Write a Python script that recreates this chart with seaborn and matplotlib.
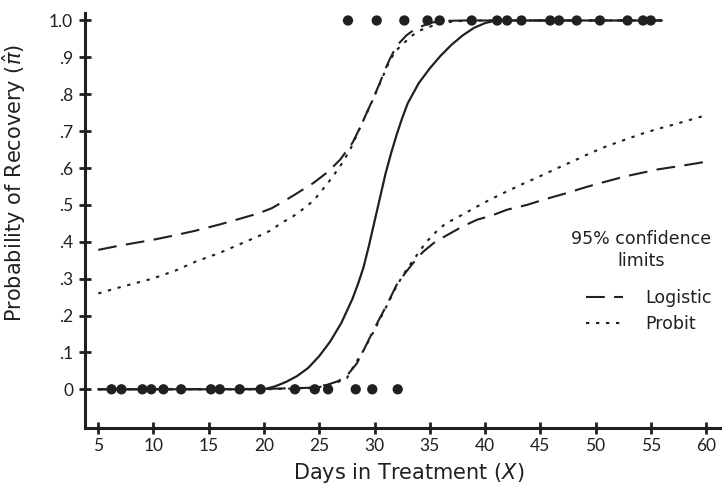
import matplotlib
matplotlib.use("Agg")
import matplotlib.pyplot as plt
import matplotlib.lines as mlines
import seaborn as sns
import pandas as pd

# ---- data ----
zero_x = [6.2, 7.1, 9.0, 9.8, 10.9, 12.5, 15.2, 16.0, 17.8, 19.7, 22.8, 24.6, 25.8, 28.3, 29.8, 32.1]
one_x = [27.6, 30.2, 32.7, 34.8, 35.9, 38.8, 41.1, 42.0, 43.3, 45.9, 46.7, 48.3, 50.4, 52.9, 54.3, 55.0]

fit_x = [5, 15, 20, 21, 22, 23, 24, 25, 26, 27, 28, 28.5, 29, 29.5, 30, 30.5, 31, 31.5, 32, 32.5, 33, 34, 35, 36, 37, 38, 39, 40, 41, 56]
fit_y = [0, 0, 0, 0.008, 0.02, 0.036, 0.058, 0.09, 0.13, 0.18, 0.245, 0.285, 0.33, 0.39, 0.455, 0.52, 0.585, 0.64, 0.69, 0.735, 0.775, 0.83, 0.87, 0.905, 0.935, 0.96, 0.98, 0.993, 1.0, 1.0]

logit_up_x = [5, 7, 9.9, 12, 13.8, 16, 18, 19.5, 20.7, 21.8, 22.8, 24.5, 25.8, 26.9, 28.0, 28.7, 29.3, 29.9, 30.5, 31.0, 31.4, 31.8, 32.3, 32.9, 33.5, 34.4, 35.3, 36.5, 38, 56]
logit_up_y = [0.378, 0.39, 0.405, 0.418, 0.43, 0.447, 0.464, 0.477, 0.491, 0.51, 0.528, 0.56, 0.59, 0.623, 0.668, 0.71, 0.75, 0.79, 0.832, 0.87, 0.896, 0.92, 0.941, 0.96, 0.973, 0.986, 0.995, 0.999, 1.0, 1.0]

logit_lo_x = [5, 20, 24, 25.7, 26.7, 27.5, 28.4, 29.0, 29.9, 31.1, 32.0, 32.9, 33.7, 34.4, 35.5, 36.8, 38, 39.3, 40.5, 42, 43.8, 45.5, 47.4, 49, 50.4, 52.8, 55.6, 58.6, 60]
logit_lo_y = [0, 0.001, 0.004, 0.012, 0.022, 0.037, 0.07, 0.105, 0.16, 0.228, 0.283, 0.32, 0.35, 0.373, 0.40, 0.422, 0.442, 0.46, 0.47, 0.487, 0.50, 0.516, 0.532, 0.547, 0.559, 0.578, 0.596, 0.61, 0.617]

probit_up_x = [5, 7, 9.9, 12, 13.8, 16, 18, 19.5, 20.7, 21.5, 22.5, 23.5, 24.5, 25.8, 26.9, 27.8, 28.7, 29.6, 30.5, 31.0, 31.4, 32.0, 32.6, 33.3, 34.1, 35.0, 35.7, 37, 38.5, 56]
probit_up_y = [0.26, 0.277, 0.30, 0.322, 0.346, 0.37, 0.396, 0.415, 0.432, 0.45, 0.466, 0.488, 0.512, 0.56, 0.605, 0.65, 0.71, 0.768, 0.83, 0.865, 0.893, 0.92, 0.937, 0.957, 0.973, 0.983, 0.99, 0.997, 1.0, 1.0]

probit_lo_x = [5, 20, 24, 25.5, 26.6, 27.5, 28.1, 29.0, 29.9, 31.0, 32.0, 32.8, 33.5, 34.7, 35.9, 36.6, 38, 39.0, 40.5, 42, 43.5, 45, 46.5, 48, 49.5, 51, 52.5, 54, 55.5, 57.1, 58.5, 60]
probit_lo_y = [0, 0, 0.003, 0.008, 0.019, 0.03, 0.062, 0.105, 0.155, 0.22, 0.28, 0.32, 0.35, 0.40, 0.437, 0.452, 0.474, 0.491, 0.515, 0.537, 0.558, 0.578, 0.599, 0.619, 0.64, 0.659, 0.675, 0.691, 0.705, 0.718, 0.73, 0.743]

x_ticks = [5, 10, 15, 20, 25, 30, 35, 40, 45, 50, 55, 60]
y_ticks = [0, 0.1, 0.2, 0.3, 0.4, 0.5, 0.6, 0.7, 0.8, 0.9, 1.0]
y_tick_labels = ["0", ".1", ".2", ".3", ".4", ".5", ".6", ".7", ".8", ".9", "1.0"]
legend_labels = ["Logistic", "Probit"]
legend_title = "95% confidence\nlimits"

# ---- style ----
sns.set_style("ticks")
INK = "#231f20"
plt.rcParams["font.family"] = ["Lato", "DejaVu Sans"]
plt.rcParams["text.color"] = INK
plt.rcParams["axes.labelcolor"] = INK
plt.rcParams["xtick.color"] = INK
plt.rcParams["ytick.color"] = INK
plt.rcParams["mathtext.fontset"] = "dejavusans"
LABEL_FONT = ["DejaVu Sans"]

fig = plt.figure(figsize=(7.22, 4.93), dpi=100)
ax = fig.add_axes([0.1177, 0.1318, 0.8816, 0.8416])

dash_style = (0, (9, 4.5))
dot_style = (0, (1.6, 3.2))

def curve(xs, ys, ls, lw):
    df = pd.DataFrame({"x": xs, "y": ys})
    sns.lineplot(data=df, x="x", y="y", ax=ax, color=INK, linestyle=ls, lw=lw,
                 sort=False, estimator=None)

curve(logit_up_x, logit_up_y, dash_style, 1.5)
curve(logit_lo_x, logit_lo_y, dash_style, 1.5)
curve(probit_up_x, probit_up_y, dot_style, 1.5)
curve(probit_lo_x, probit_lo_y, dot_style, 1.5)
curve(fit_x, fit_y, "-", 1.6)

pts = pd.DataFrame({"x": zero_x + one_x, "y": [0] * len(zero_x) + [1] * len(one_x)})
sns.scatterplot(data=pts, x="x", y="y", ax=ax, color=INK, s=55, edgecolor="none", zorder=5)

ax.set_xlim(3.8, 61.4)
ax.set_ylim(-0.105, 1.02)
ax.set_xticks(x_ticks)
ax.set_xticklabels([str(t) for t in x_ticks])
ax.set_yticks(y_ticks)
ax.set_yticklabels(y_tick_labels)

sns.despine(ax=ax)
for s in ["left", "bottom"]:
    ax.spines[s].set_linewidth(2.2)
    ax.spines[s].set_color(INK)
ax.tick_params(axis="both", direction="inout", length=9, width=2.0, labelsize=12.5)
ax.tick_params(axis="y", pad=4)
ax.tick_params(axis="x", pad=3)

ax.set_xlabel("Days in Treatment ($\\it{X}$)", fontsize=15, family=LABEL_FONT)
ax.set_ylabel("Probability of Recovery ($\\hat{\\pi}$)", fontsize=15, family=LABEL_FONT)
ax.xaxis.set_label_coords(0.509, -0.08)
ax.yaxis.set_label_coords(-0.09, 0.59)

ax.text(0.8735, 0.429, legend_title, transform=ax.transAxes, ha="center", va="center",
        fontsize=12.5, family=LABEL_FONT, linespacing=1.35, color=INK)

h1 = mlines.Line2D([], [], color=INK, lw=1.5, linestyle=dash_style)
h2 = mlines.Line2D([], [], color=INK, lw=1.5, linestyle=dot_style)
leg = ax.legend([h1, h2], legend_labels, frameon=False,
                prop={"family": LABEL_FONT, "size": 12.5},
                handlelength=2.13, handletextpad=1.3, labelspacing=0.45,
                borderpad=0, borderaxespad=0,
                loc="upper left", bbox_to_anchor=(0.787, 0.335))

fig.savefig("out.png", dpi=100)
